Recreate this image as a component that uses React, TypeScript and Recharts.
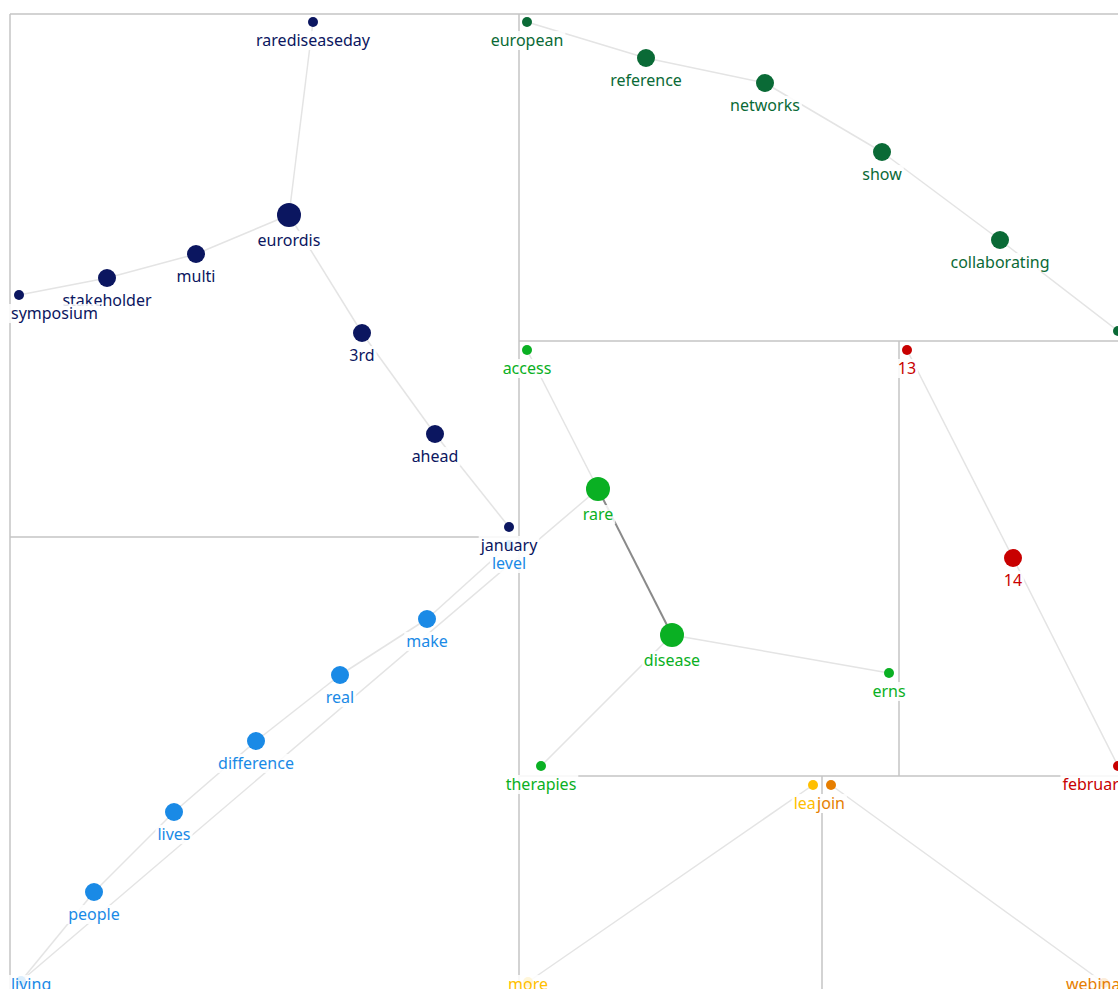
import React from 'react';
import { ScatterChart, Scatter, XAxis, YAxis, ReferenceLine } from 'recharts';

// node layout positions (x, y in layout units), size class and label
const navyNodes = [
  { id: 'rarediseaseday', x: 313, y: 22, r: 5 },
  { id: 'eurordis', x: 289, y: 215, r: 12 },
  { id: 'multi', x: 196, y: 254, r: 9 },
  { id: 'stakeholder', x: 107, y: 278, r: 9 },
  { id: 'symposium', x: 19, y: 295, r: 5 },
  { id: '3rd', x: 362, y: 333, r: 9 },
  { id: 'ahead', x: 435, y: 434, r: 9 },
  { id: 'january', x: 509, y: 527, r: 5 },
];
const darkGreenNodes = [
  { id: 'european', x: 527, y: 22, r: 5 },
  { id: 'reference', x: 646, y: 58, r: 9 },
  { id: 'networks', x: 765, y: 83, r: 9 },
  { id: 'show', x: 882, y: 152, r: 9 },
  { id: 'collaborating', x: 1000, y: 240, r: 9 },
  { id: '', x: 1118, y: 331, r: 5 },
];
const greenNodes = [
  { id: 'access', x: 527, y: 350, r: 5 },
  { id: 'rare', x: 598, y: 489, r: 12 },
  { id: 'disease', x: 672, y: 635, r: 12 },
  { id: 'erns', x: 889, y: 673, r: 5 },
  { id: 'therapies', x: 541, y: 766, r: 5 },
];
const redNodes = [
  { id: '13', x: 907, y: 350, r: 5 },
  { id: '14', x: 1013, y: 558, r: 9 },
  { id: 'february', x: 1118, y: 766, r: 5 },
];
const blueNodes = [
  { id: 'level', x: 509, y: 545, r: 5 },
  { id: 'make', x: 427, y: 619, r: 9 },
  { id: 'real', x: 340, y: 675, r: 9 },
  { id: 'difference', x: 256, y: 741, r: 9 },
  { id: 'lives', x: 174, y: 812, r: 9 },
  { id: 'people', x: 94, y: 892, r: 9 },
  { id: 'living', x: 21, y: 981, r: 5 },
];
const yellowNodes = [
  { id: 'learn', x: 813, y: 785, r: 5 },
  { id: 'more', x: 528, y: 982, r: 5 },
];
const orangeNodes = [
  { id: 'join', x: 831, y: 785, r: 5 },
  { id: 'webinar', x: 1104, y: 983, r: 5 },
];

const edges: [string, string][] = [
  ['rarediseaseday', 'eurordis'],
  ['eurordis', 'multi'],
  ['multi', 'stakeholder'],
  ['stakeholder', 'symposium'],
  ['eurordis', '3rd'],
  ['3rd', 'ahead'],
  ['ahead', 'january'],
  ['european', 'reference'],
  ['reference', 'networks'],
  ['networks', 'show'],
  ['show', 'collaborating'],
  ['collaborating', ''],
  ['access', 'rare'],
  ['disease', 'erns'],
  ['disease', 'therapies'],
  ['13', '14'],
  ['14', 'february'],
  ['level', 'make'],
  ['make', 'real'],
  ['real', 'difference'],
  ['difference', 'lives'],
  ['lives', 'people'],
  ['people', 'living'],
  ['rare', 'living'],
  ['learn', 'more'],
  ['join', 'webinar'],
];
const strongEdges: [string, string][] = [['rare', 'disease']];

// cluster boundaries
const partitions = [
  [10, 14, 1118, 14],
  [10, 14, 10, 989],
  [519, 14, 519, 989],
  [10, 537, 519, 537],
  [519, 341, 1118, 341],
  [899, 341, 899, 776],
  [519, 776, 1118, 776],
  [822, 776, 822, 989],
];

const groups = [
  { nodes: navyNodes, color: '#0b1660' },
  { nodes: darkGreenNodes, color: '#0a6a36' },
  { nodes: greenNodes, color: '#0ab023' },
  { nodes: redNodes, color: '#c80000' },
  { nodes: blueNodes, color: '#1a8ae6' },
  { nodes: yellowNodes, color: '#ffbf00' },
  { nodes: orangeNodes, color: '#e67e00' },
];

const W = 1118;
const H = 989;
const FONT = "16px 'Noto Sans'";

const allNodes = groups.flatMap(g => g.nodes);
const findNode = (id: string) => allNodes.find(n => n.id === id)!;

let ctx: CanvasRenderingContext2D | null = null;
const measure = (text: string) => {
  if (!ctx) ctx = document.createElement('canvas').getContext('2d');
  if (!ctx) return text.length * 8;
  ctx.font = FONT;
  return ctx.measureText(text).width;
};

const makeDot = (color: string) => (props: any) => {
  const { cx, cy, payload } = props;
  return <circle cx={cx} cy={cy} r={payload.r} fill={color} />;
};

const makeLabel = (color: string) => (props: any) => {
  const { cx, cy, payload } = props;
  if (!payload.id) return <g />;
  const w = measure(payload.id);
  const lx = Math.min(Math.max(cx, 10 + w / 2 + 1), 1127 - w / 2);
  const ly = Math.min(cy + payload.r + 13, 984);
  return (
    <g>
      <rect x={lx - w / 2 - 2} y={ly - 9} width={w + 4} height={19} fill="#ffffff" fillOpacity={0.85} />
      <text
        x={lx}
        y={ly}
        textAnchor="middle"
        dominantBaseline="central"
        fill={color}
        style={{ font: FONT }}
      >
        {payload.id}
      </text>
    </g>
  );
};

export default function App() {
  return (
    <div style={{ position: 'absolute', left: 0, top: 0, width: W, height: H, background: '#fff' }}>
      <ScatterChart width={W} height={H} margin={{ top: 0, right: 0, bottom: 0, left: 0 }}>
        <XAxis type="number" dataKey="x" domain={[0, W]} hide />
        <YAxis type="number" dataKey="y" domain={[0, H]} reversed hide />
        {partitions.map(([x1, y1, x2, y2], i) => (
          <ReferenceLine
            key={'p' + i}
            segment={[{ x: x1, y: y1 }, { x: x2, y: y2 }]}
            stroke="#c4c4c4"
            strokeWidth={1.5}
            ifOverflow="visible"
          />
        ))}
        {edges.map(([a, b], i) => {
          const na = findNode(a);
          const nb = findNode(b);
          return (
            <ReferenceLine
              key={'e' + i}
              segment={[{ x: na.x, y: na.y }, { x: nb.x, y: nb.y }]}
              stroke="#e4e4e4"
              strokeWidth={1.5}
              ifOverflow="visible"
            />
          );
        })}
        {strongEdges.map(([a, b], i) => {
          const na = findNode(a);
          const nb = findNode(b);
          return (
            <ReferenceLine
              key={'s' + i}
              segment={[{ x: na.x, y: na.y }, { x: nb.x, y: nb.y }]}
              stroke="#8a8a8a"
              strokeWidth={2}
              ifOverflow="visible"
            />
          );
        })}
        {groups.map((g, i) => (
          <Scatter
            key={'d' + i}
            data={g.nodes}
            shape={makeDot(g.color)}
            isAnimationActive={false}
          />
        ))}
        {groups.map((g, i) => (
          <Scatter
            key={'l' + i}
            data={g.nodes}
            shape={makeLabel(g.color)}
            isAnimationActive={false}
          />
        ))}
      </ScatterChart>
    </div>
  );
}
